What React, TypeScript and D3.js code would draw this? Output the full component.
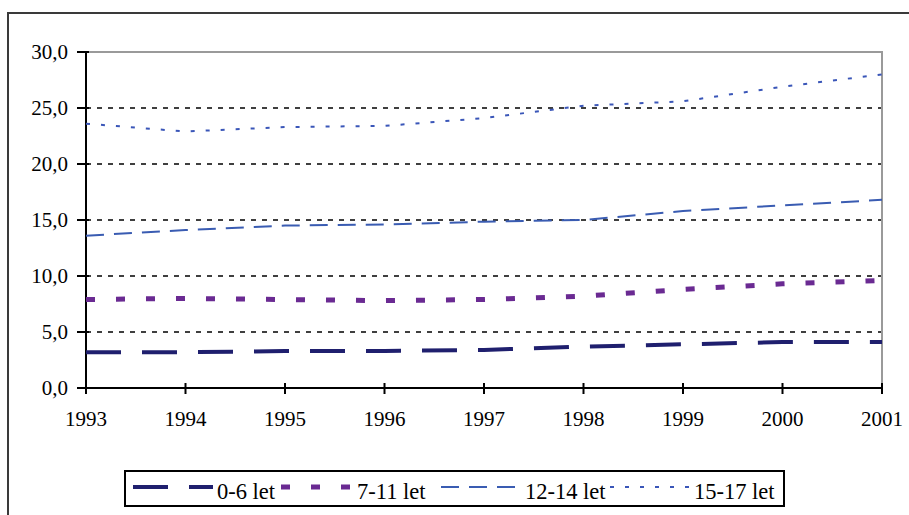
import React from 'react';
import * as d3 from 'd3';

const years = [1993, 1994, 1995, 1996, 1997, 1998, 1999, 2000, 2001];
const seriesNames = ['0-6 let', '7-11 let', '12-14 let', '15-17 let'];
const age0to6 = [3.2, 3.2, 3.3, 3.3, 3.4, 3.7, 3.9, 4.1, 4.1];
const age7to11 = [7.9, 8.0, 7.9, 7.8, 7.9, 8.2, 8.8, 9.3, 9.6];
const age12to14 = [13.6, 14.1, 14.5, 14.6, 14.85, 15.0, 15.8, 16.3, 16.8];
const age15to17 = [23.6, 22.9, 23.3, 23.4, 24.1, 25.2, 25.6, 26.9, 28.0];
const yTicks = [0, 5, 10, 15, 20, 25, 30];

const styles = [
  {color: '#1f1f6e', width: 4, dash: '35,21'},
  {color: '#6a2a92', width: 5, dash: '9,21'},
  {color: '#3a5cb2', width: 2, dash: '18,10'},
  {color: '#3a56b8', width: 2, dash: '4,11'}
];

const W = 909;
const H = 515;
const font = "'Liberation Serif', 'Times New Roman', serif";

export default function App() {
  const left = 86, right = 882, top = 52, bottom = 388;
  const x = d3.scaleLinear().domain([1993, 2001]).range([left, right]);
  const y = d3.scaleLinear().domain([0, 30]).range([bottom, top]);
  const line = d3.line<number>()
    .x((d, i) => x(years[i]))
    .y(d => y(d));
  const series = [age0to6, age7to11, age12to14, age15to17];

  // legend layout
  const itemX = [133, 281, 441, 610];
  const lineLen = [80, 72, 80, 80];

  return (
    <div style={{position: 'fixed', left: 0, top: 0, width: W, height: H, background: '#fff'}}>
      <svg width={W} height={H} style={{fontFamily: font}}>
        {/* outer frame */}
        <rect x={8} y={13} width={940} height={540} fill="none" stroke="#3a3a3a" strokeWidth={2} />

        {/* grid */}
        {yTicks.filter(t => t > 0 && t < 30).map(t => (
          <line key={'g' + t} x1={left} x2={right} y1={y(t)} y2={y(t)}
            stroke="#000" strokeWidth={1.5} strokeDasharray="5,6" />
        ))}

        {/* plot frame top/right */}
        <path d={`M${left},${y(30)}H${right}V${bottom}`} fill="none" stroke="#9a9a9a" strokeWidth={2} />

        {/* axes */}
        <line x1={left} x2={left} y1={y(30)} y2={bottom} stroke="#000" strokeWidth={2} />
        <line x1={left} x2={right} y1={bottom} y2={bottom} stroke="#000" strokeWidth={2} />

        {yTicks.map(t => (
          <g key={'y' + t}>
            <line x1={left - 9} x2={left + 3} y1={y(t)} y2={y(t)} stroke="#000" strokeWidth={2} />
            <text x={68} y={y(t)} dy="0.34em" textAnchor="end" fontFamily={font} fontSize={21} fill="#000">
              {d3.format('.1f')(t).replace('.', ',')}
            </text>
          </g>
        ))}

        {years.map(yr => (
          <g key={'x' + yr}>
            <line x1={x(yr)} x2={x(yr)} y1={bottom - 5} y2={bottom + 6} stroke="#000" strokeWidth={2} />
            <text x={x(yr)} y={426} textAnchor="middle" fontFamily={font} fontSize={21} fill="#000">{yr}</text>
          </g>
        ))}

        {/* series */}
        {series.map((s, i) => (
          <path key={'s' + i} d={line(s) || ''} fill="none"
            stroke={styles[i].color} strokeWidth={styles[i].width} strokeDasharray={styles[i].dash} />
        ))}

        {/* legend */}
        <rect x={125} y={471} width={659} height={35} fill="#fff" stroke="#000" strokeWidth={2} />
        {seriesNames.map((name, i) => (
          <g key={name}>
            <line x1={itemX[i]} x2={itemX[i] + lineLen[i]} y1={487} y2={487}
              stroke={styles[i].color} strokeWidth={styles[i].width} strokeDasharray={styles[i].dash} />
            <text x={itemX[i] + lineLen[i] + 4} y={499} fontFamily={font} fontSize={22.5} fill="#000">{name}</text>
          </g>
        ))}
      </svg>
    </div>
  );
}
